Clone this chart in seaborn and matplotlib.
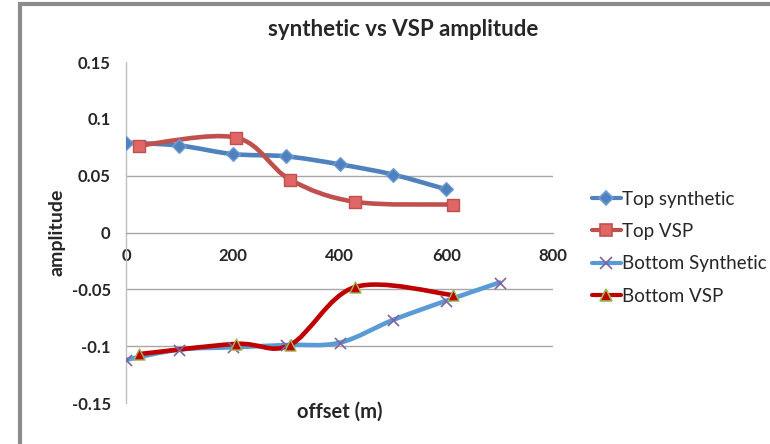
import numpy as np
import pandas as pd
import matplotlib
matplotlib.use("Agg")
import matplotlib.pyplot as plt
from matplotlib.path import Path
from matplotlib.patches import PathPatch, Rectangle
from matplotlib.lines import Line2D
import seaborn as sns

# ---- data ----
top_syn_x = [0, 100, 200, 300, 400, 500, 600]
top_syn_y = [0.079, 0.0765, 0.069, 0.067, 0.060, 0.051, 0.038]
top_vsp_x = [24, 206, 307, 429, 612]
top_vsp_y = [0.0765, 0.0835, 0.0466, 0.027, 0.0246]
bot_syn_x = [0, 100, 200, 300, 400, 500, 600, 700]
bot_syn_y = [-0.112, -0.103, -0.101, -0.099, -0.097, -0.077, -0.060, -0.044]
bot_vsp_x = [24, 206, 307, 429, 612]
bot_vsp_y = [-0.107, -0.098, -0.099, -0.048, -0.055]

title = "synthetic vs VSP amplitude"
xlabel = "offset (m)"
ylabel = "amplitude"
xticks = [0, 200, 400, 600, 800]
yticks = [-0.15, -0.1, -0.05, 0, 0.05, 0.1, 0.15]
ytick_labels = ["-0.15", "-0.1", "-0.05", "0", "0.05", "0.1", "0.15"]

series = [
    ("Top synthetic", top_syn_x, top_syn_y),
    ("Top VSP", top_vsp_x, top_vsp_y),
    ("Bottom Synthetic", bot_syn_x, bot_syn_y),
    ("Bottom VSP", bot_vsp_x, bot_vsp_y),
]
df = pd.concat([pd.DataFrame({"series": n, "x": x, "y": y}) for n, x, y in series],
               ignore_index=True)

styles = {
    "Top synthetic": dict(line="#4F81BD", marker="D", mfc="#4F81BD", mec="#6E9BD6", ms=7),
    "Top VSP": dict(line="#C0504D", marker="s", mfc="#E06666", mec="#C0504D", ms=8),
    "Bottom Synthetic": dict(line="#5B9BD5", marker="x", mfc="#8064A2", mec="#8064A2", ms=8),
    "Bottom VSP": dict(line="#C00000", marker="^", mfc="#C00000", mec="#9BBB59", ms=8),
}

sns.set_theme(style="white")
plt.rcParams['font.family'] = ['Lato', 'DejaVu Sans']

fig = plt.figure(figsize=(7.7, 4.44), dpi=100)
ax = fig.add_axes([126/770, 1-403/444, (553-126)/770, (403-62)/444])

# outer frame
fig.patches.append(Rectangle((20/770, -0.1), 1.2, 1-4/444+0.1, transform=fig.transFigure,
                             fill=False, edgecolor="#8c8c8c", linewidth=3, zorder=0))

# gridlines (as seen)
for g in [0.05, -0.05, -0.1]:
    ax.axhline(g, xmin=0, xmax=1, color="#a6a6a6", lw=1, zorder=1)


def smooth_path(xs, ys):
    pts = np.column_stack([xs, ys]).astype(float)
    n = len(pts)
    verts = [pts[0]]
    codes = [Path.MOVETO]
    for i in range(n - 1):
        p0 = pts[i - 1] if i > 0 else pts[i]
        p1 = pts[i]
        p2 = pts[i + 1]
        p3 = pts[i + 2] if i + 2 < n else pts[i + 1]
        c1 = p1 + (p2 - p0) / 6.0
        c2 = p2 - (p3 - p1) / 6.0
        verts += [c1, c2, p2]
        codes += [Path.CURVE4] * 3
    return Path(verts, codes)


for name, xs, ys in series:
    st = styles[name]
    ax.add_patch(PathPatch(smooth_path(xs, ys), fill=False, edgecolor=st["line"],
                           lw=3.3, zorder=3, capstyle="round", joinstyle="round"))
    sub = df[df.series == name]
    if st["marker"] == "x":
        sns.scatterplot(data=sub, x="x", y="y", marker="x", s=st["ms"]**2,
                        color=st["mfc"], linewidth=1.2, ax=ax, zorder=4, legend=False)
    else:
        sns.scatterplot(data=sub, x="x", y="y", marker=st["marker"], s=st["ms"]**2,
                        color=st["mfc"], edgecolor=st["mec"], linewidth=1, ax=ax,
                        zorder=4, legend=False)

ax.set_xlim(0, 800)
ax.set_ylim(-0.15, 0.15)
for s in ["top", "right"]:
    ax.spines[s].set_visible(False)
ax.spines["left"].set_position(("data", 0))
ax.spines["bottom"].set_position(("data", 0))
ax.spines["left"].set_color("#bfbfbf")
ax.spines["bottom"].set_color("#a6a6a6")
ax.spines["left"].set_linewidth(1)
ax.spines["bottom"].set_linewidth(1)
ax.set_xlabel("")
ax.set_ylabel("")

ax.tick_params(axis="y", length=0, pad=11, labelsize=12)
ax.tick_params(axis="x", length=0, pad=11, labelsize=12)
ax.set_xticks(xticks)
ax.set_xticklabels([str(t) for t in xticks], fontsize=12, fontweight="bold")
ax.set_yticks(yticks)
ax.set_yticklabels(ytick_labels, fontsize=12, fontweight="bold")

fig.text(340/770, 1-412/444, xlabel, ha="center", va="center", fontsize=14.5, fontweight="bold")
fig.text(57/770, 1-232/444, ylabel, ha="center", va="center", rotation=90,
         fontsize=14, fontweight="bold")
fig.text(403/770, 1-30/444, title, ha="center", va="center", fontsize=16, fontweight="bold")

handles = []
for name, _, _ in series:
    st = styles[name]
    handles.append(Line2D([], [], color=st["line"], lw=3, marker=st["marker"],
                          markersize=st["ms"], markerfacecolor=st["mfc"],
                          markeredgecolor=st["mec"], markeredgewidth=1.2))
fig.legend(handles, [s[0] for s in series], loc="upper left",
           bbox_to_anchor=(584/770, 1-183/444), frameon=False, fontsize=13.5,
           handlelength=1.55, handletextpad=0.1, labelspacing=0.82, borderaxespad=0)

fig.savefig("out.png", dpi=100)
